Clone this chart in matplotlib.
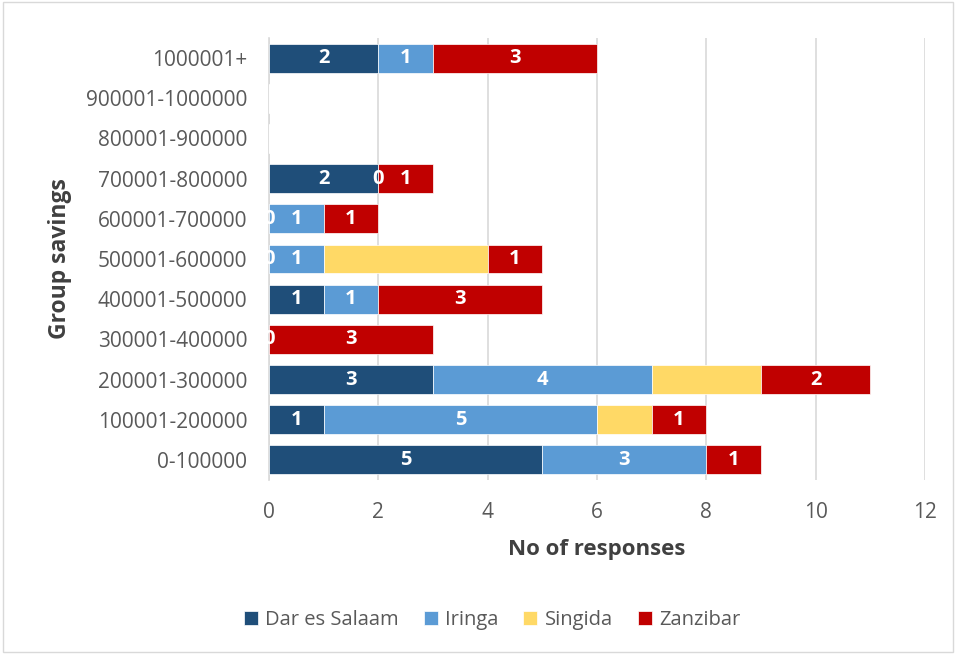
import numpy as np
import matplotlib
matplotlib.use("Agg")
import matplotlib.pyplot as plt
from matplotlib.patches import Rectangle

categories = ["0-100000", "100001-200000", "200001-300000", "300001-400000",
              "400001-500000", "500001-600000", "600001-700000", "700001-800000",
              "800001-900000", "900001-1000000", "1000001+"]
nan = np.nan
dar = [5, 1, 3, 0, 1, 0, 0, 2, nan, nan, 2]
iringa = [3, 5, 4, nan, 1, 1, 1, 0, nan, nan, 1]
singida = [0, 1, 2, nan, nan, 3, nan, nan, nan, nan, nan]
zanzibar = [1, 1, 2, 3, 3, 1, 1, 1, nan, nan, 3]
series = [("Dar es Salaam", dar, "#1F4E79", True),
          ("Iringa", iringa, "#5B9BD5", True),
          ("Singida", singida, "#FFD966", False),
          ("Zanzibar", zanzibar, "#C00000", True)]

plt.rcParams['font.family'] = ['Open Sans', 'DejaVu Sans']
fig = plt.figure(figsize=(9.56, 6.54), dpi=100)
ax = fig.add_axes([269/956, 1-480/654, (925-269)/956, 442/654])

y = np.arange(len(categories))
left = np.zeros(len(categories))
for name, vals, color, show in series:
    v = np.array(vals, dtype=float)
    w = np.nan_to_num(v)
    ax.barh(y, w, left=left, height=0.72, color=color, label=name,
            edgecolor='white', linewidth=0.5, zorder=3)
    if show:
        for i in range(len(categories)):
            if not np.isnan(v[i]):
                ax.text(left[i] + w[i] / 2, y[i], f"{int(v[i])}", ha='center', va='center',
                        color='white', fontsize=14.5, fontweight='bold', zorder=4)
    left = left + w

ax.set_xlim(0, 12)
ax.set_ylim(-0.5, len(categories) - 0.5)
ax.set_xticks(np.arange(0, 13, 2))
ax.set_yticks(y)
ax.set_yticklabels(categories)
ax.xaxis.grid(True, color='#D9D9D9', linewidth=1.2, zorder=0)
ax.set_axisbelow(True)
for s in ['top', 'right', 'bottom']:
    ax.spines[s].set_visible(False)
ax.spines['left'].set_color('#D9D9D9')
ax.spines['left'].set_linewidth(1.2)
ax.tick_params(axis='both', length=0, labelsize=15, colors='#595959')
ax.tick_params(axis='y', pad=15.5)
ax.tick_params(axis='x', pad=16)
ax.set_xlabel("No of responses", fontsize=16, fontweight='bold', color='#404040', va='center')
ax.set_ylabel("Group savings", fontsize=16.5, fontweight='bold', color='#404040', va='center')
ax.xaxis.set_label_coords(0.5, (480-550)/442)
ax.yaxis.set_label_coords((60-269)/656, 0.5)

handles, labels = ax.get_legend_handles_labels()
fig.legend(handles, labels, loc='center', bbox_to_anchor=(492/956, 1-620/654), ncol=4,
           frameon=False, fontsize=14.5, labelcolor='#595959', handlelength=0.7,
           handleheight=0.7, handletextpad=0.35, columnspacing=1.25)

fig.patches.append(Rectangle((0.003, 0.003), 0.994, 0.994, transform=fig.transFigure,
                             fill=False, edgecolor='#D9D9D9', linewidth=1))
fig.savefig("out.png", dpi=100)
